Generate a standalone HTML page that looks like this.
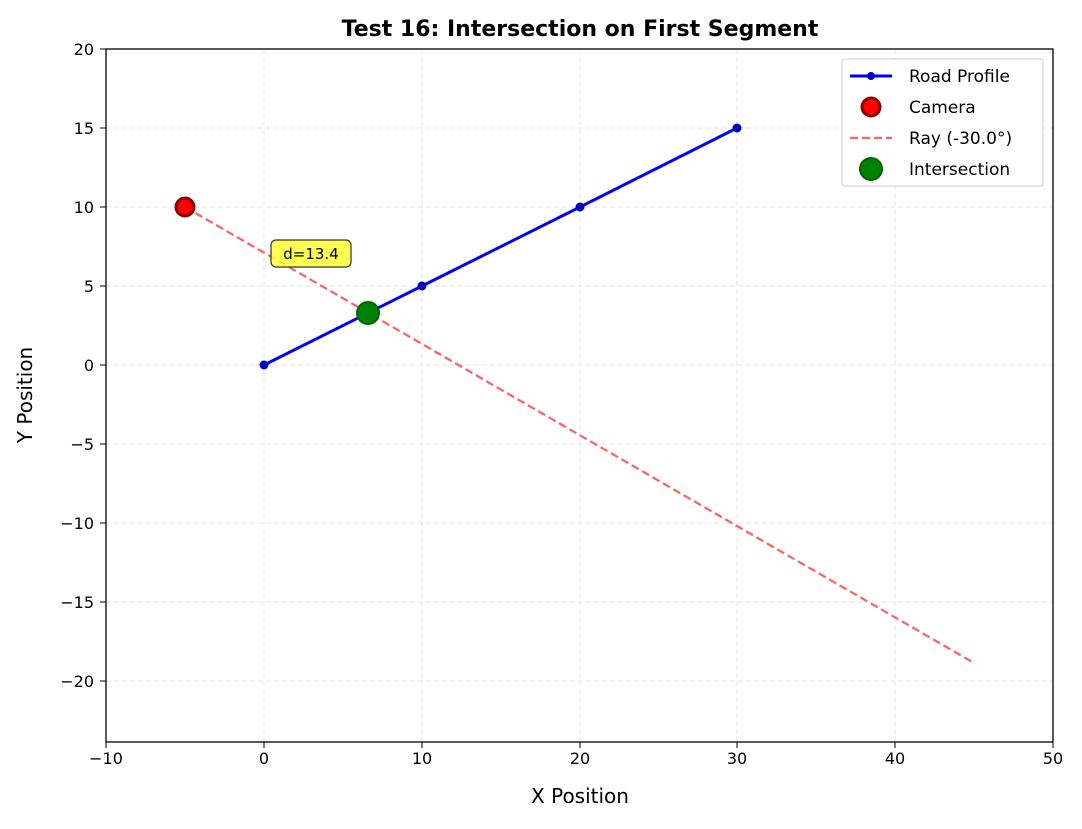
<!DOCTYPE html>
<html><head><meta charset="utf-8"><style>
body{margin:0;background:#fff}
svg text{font-family:"DejaVu Sans","Liberation Sans",sans-serif}
</style></head><body>
<svg width="1082" height="824" xmlns="http://www.w3.org/2000/svg">
<rect width="1082" height="824" fill="#fff"/>
<g stroke="#e6e6e6" stroke-width="1" stroke-dasharray="5,3">
<line x1="264" y1="49" x2="264" y2="742"/><line x1="422" y1="49" x2="422" y2="742"/>
<line x1="580" y1="49" x2="580" y2="742"/><line x1="737" y1="49" x2="737" y2="742"/>
<line x1="895" y1="49" x2="895" y2="742"/>
<line x1="106" y1="128" x2="1053" y2="128"/><line x1="106" y1="207" x2="1053" y2="207"/>
<line x1="106" y1="286" x2="1053" y2="286"/><line x1="106" y1="365" x2="1053" y2="365"/>
<line x1="106" y1="444" x2="1053" y2="444"/><line x1="106" y1="523" x2="1053" y2="523"/>
<line x1="106" y1="602" x2="1053" y2="602"/><line x1="106" y1="681" x2="1053" y2="681"/>
</g>
<polyline points="264,365 422,286 580,207 737,128" fill="none" stroke="#0000ff" stroke-width="3"/>
<g fill="#0000cc" stroke="#0000aa"><circle cx="264" cy="365" r="4"/><circle cx="422" cy="286" r="4"/><circle cx="580" cy="207" r="4"/><circle cx="737" cy="128" r="4"/></g>
<line x1="185" y1="207" x2="974" y2="663" stroke="#ff6060" stroke-width="2.2" stroke-dasharray="8,4"/>
<circle cx="185" cy="207" r="9" fill="#ff0000" stroke="#8b0000" stroke-width="3"/>
<circle cx="368" cy="313" r="11" fill="#008000" stroke="#006400" stroke-width="2"/>
<rect x="271" y="240" width="80" height="27" rx="5" fill="#ffff33" stroke="#333" stroke-width="1.2" fill-opacity="0.85"/>
<text x="311" y="259" font-size="15" text-anchor="middle">d=13.4</text>
<rect x="106" y="49" width="947" height="693" fill="none" stroke="#000" stroke-width="1.3"/>
<g stroke="#000"><line x1="106" y1="742" x2="106" y2="748"/><line x1="264" y1="742" x2="264" y2="748"/><line x1="422" y1="742" x2="422" y2="748"/><line x1="580" y1="742" x2="580" y2="748"/><line x1="737" y1="742" x2="737" y2="748"/><line x1="895" y1="742" x2="895" y2="748"/><line x1="1053" y1="742" x2="1053" y2="748"/>
<line x1="100" y1="49" x2="106" y2="49"/><line x1="100" y1="128" x2="106" y2="128"/><line x1="100" y1="207" x2="106" y2="207"/><line x1="100" y1="286" x2="106" y2="286"/><line x1="100" y1="365" x2="106" y2="365"/><line x1="100" y1="444" x2="106" y2="444"/><line x1="100" y1="523" x2="106" y2="523"/><line x1="100" y1="602" x2="106" y2="602"/><line x1="100" y1="681" x2="106" y2="681"/></g>
<g font-size="16" text-anchor="middle"><text x="106" y="764">−10</text><text x="264" y="764">0</text><text x="422" y="764">10</text><text x="580" y="764">20</text><text x="737" y="764">30</text><text x="895" y="764">40</text><text x="1053" y="764">50</text></g>
<g font-size="16" text-anchor="end"><text x="94" y="55">20</text><text x="94" y="134">15</text><text x="94" y="213">10</text><text x="94" y="292">5</text><text x="94" y="371">0</text><text x="94" y="450">−5</text><text x="94" y="529">−10</text><text x="94" y="608">−15</text><text x="94" y="687">−20</text></g>
<text x="580" y="803" font-size="20" text-anchor="middle">X Position</text>
<text x="32" y="395" font-size="20" text-anchor="middle" transform="rotate(-90 32 395)">Y Position</text>
<text x="580" y="36" font-size="22" font-weight="bold" text-anchor="middle">Test 16: Intersection on First Segment</text>
<rect x="842" y="59" width="201" height="127" rx="3" fill="#fff" fill-opacity="0.9" stroke="#ccc"/>
<line x1="850" y1="76" x2="892" y2="76" stroke="#0000ff" stroke-width="3"/><circle cx="871" cy="76" r="4" fill="#0000cc"/>
<circle cx="871" cy="107" r="9" fill="#ff0000" stroke="#8b0000" stroke-width="3"/>
<line x1="850" y1="138" x2="892" y2="138" stroke="#ff6060" stroke-width="2.2" stroke-dasharray="8,4"/>
<circle cx="871" cy="169" r="11" fill="#008000" stroke="#006400" stroke-width="2"/>
<g font-size="17"><text x="909" y="82">Road Profile</text><text x="909" y="113">Camera</text><text x="909" y="144">Ray (-30.0°)</text><text x="909" y="175">Intersection</text></g>
</svg>
</body></html>
